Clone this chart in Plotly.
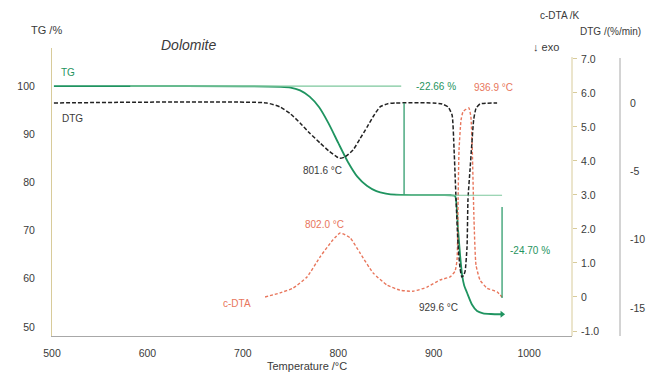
import plotly.graph_objects as go

# Thermal analysis of dolomite: TG, DTG and c-DTA versus temperature
temp_tg = [502, 580, 700, 740, 750, 760, 770, 780, 790, 800, 810, 820, 830, 840,
           850, 860, 880, 900, 918, 922.4, 925.6, 927.7, 929.8, 932, 935, 940.3,
           945.5, 951.8, 960, 971.7]
tg = [100.0, 100.0, 99.95, 99.85, 99.7, 99.1, 97.8, 95.6, 92.2, 88.2, 84.3, 81.2, 79.3, 78.2,
      77.7, 77.45, 77.38, 77.35, 77.34, 77.2, 70.1, 64.9, 60.8, 58.6, 57.1, 54.6,
      53.3, 52.85, 52.7, 52.64]

temp_dtg = [502, 725, 739, 750, 760, 770, 781, 790, 798.7, 801.6, 807, 815.5, 823,
            830.2, 837, 843.8, 852, 860, 899.4, 908.8, 915.1, 919.3, 921.4, 923.5,
            925.6, 927.7, 929.6, 931.5, 933, 935, 936, 938, 940, 942, 944.4, 948.6, 966.5]
dtg = [0, 0, -0.29, -0.8, -1.46, -2.2, -2.93, -3.5, -3.95, -4.05, -3.95, -3.44, -2.6,
       -1.76, -0.95, -0.29, -0.05, 0, 0, -0.07, -0.29, -0.88, -3.4, -7.1,
       -10.4, -12.1, -12.73, -12.6, -12.3, -10.5, -7.0, -5.0, -3.0, -1.2, -0.4, -0.07, 0]

temp_dta = [723.3, 739, 752.6, 767.3, 781, 794.5, 802.0, 812.4, 822.9, 836.5, 851.2,
            864.8, 878.4, 893.1, 906.7, 917.2, 922.4, 924.5, 925.6, 926.6, 928.7, 930.8,
            934, 936.9, 939, 940.5, 942.3, 944.4, 948.6, 956, 966.5, 971.7]
dta = [0.0, 0.12, 0.26, 0.59, 1.18, 1.68, 1.88, 1.74, 1.29, 0.71, 0.35,
       0.2, 0.17, 0.29, 0.5, 0.59, 0.76, 1.09, 2.85, 4.32, 5.2, 5.45,
       5.52, 5.56, 5.3, 4.3, 2.26, 0.94, 0.5, 0.26, 0.15, 0.0]

# mass-loss steps (%)
step1 = -22.66
step2 = -24.70
tg_start = 100.0
tg_mid = tg_start + step1
tg_end = tg_mid + step2

x_ticks = [500, 600, 700, 800, 900, 1000]
tg_ticks = [50, 60, 70, 80, 90, 100]
dta_ticks = [-1, 0, 1, 2, 3, 4, 5, 6, 7]
dta_ticktext = ["-1.0", "0", "1.0", "2.0", "3.0", "4.0", "5.0", "6.0", "7.0"]
dtg_ticks = [-15, -10, -5, 0]
dtg_ticktext = ["-15", "-10", "-5", "0"]

GREEN = "#1f9460"
GREEN_LIGHT = "#7cc79c"
RED = "#e8765c"
TAN = "#d8cb9a"
GREY = "#a8a8a8"
TXT = "#3a3a3a"
FONT = "Liberation Sans, Arial, sans-serif"

# geometry helpers (pixel -> paper)
L, R_PAPER, T, B = 52, 640, 48, 336
W, H = R_PAPER - L, B - T
def px(x):
    return (x - L) / W
def py(y):
    return (B - y) / H

fig = go.Figure()

fig.add_trace(go.Scatter(x=temp_dtg, y=dtg, yaxis="y3", mode="lines",
                         line=dict(color="#222222", width=1.5, dash="4px,2px",
                                   shape="spline", smoothing=0.5),
                         hoverinfo="skip"))
fig.add_trace(go.Scatter(x=temp_dta, y=dta, yaxis="y2", mode="lines",
                         line=dict(color=RED, width=1.4, dash="3px,2px",
                                   shape="spline", smoothing=0.5),
                         hoverinfo="skip"))
fig.add_trace(go.Scatter(x=temp_tg, y=tg, yaxis="y", mode="lines",
                         line=dict(color=GREEN, width=1.8, shape="spline", smoothing=0.6),
                         hoverinfo="skip"))
# arrow head at the end of the TG curve
fig.add_trace(go.Scatter(x=[temp_tg[-1]], y=[tg[-1]], yaxis="y", mode="markers",
                         marker=dict(symbol="triangle-right", size=6, color=GREEN),
                         hoverinfo="skip"))

x_step1 = 869
x_step2 = temp_tg[-1]
shapes = [
    dict(type="line", xref="x", yref="y", x0=582, x1=866, y0=tg_start, y1=tg_start,
         line=dict(color=GREEN_LIGHT, width=1.2)),
    dict(type="line", xref="x", yref="y", x0=x_step1, x1=x_step1, y0=96.5, y1=tg_mid,
         line=dict(color=GREEN, width=1.2)),
    dict(type="line", xref="x", yref="y", x0=860, x1=x_step2, y0=tg_mid, y1=tg_mid,
         line=dict(color=GREEN_LIGHT, width=1.2)),
    dict(type="line", xref="x", yref="y", x0=x_step2, x1=x_step2, y0=74.9, y1=56.0,
         line=dict(color=GREEN, width=1.2)),
    # right-hand axis lines
    dict(type="line", xref="paper", yref="paper", x0=px(572), x1=px(572), y0=0, y1=py(57),
         line=dict(color=TAN, width=1)),
    dict(type="line", xref="paper", yref="paper", x0=px(620), x1=px(620), y0=0, y1=py(58),
         line=dict(color=GREY, width=1)),
]

def txt(x, y, s, color=TXT, size=10, **kw):
    return dict(x=px(x), y=py(y), xref="paper", yref="paper", text=s, showarrow=False,
                font=dict(family=FONT, size=size, color=color), xanchor="center",
                yanchor="middle", **kw)

annotations = [
    txt(46, 30, "TG /%", size=11),
    txt(188, 45, "<i>Dolomite</i>", size=14),
    txt(560, 15, "c-DTA /K", size=10),
    txt(610, 32, "DTG /(%/min)", size=10),
    txt(546, 47, "↓ exo", size=11),
    txt(68, 72, "TG", color=GREEN, size=10),
    txt(72, 118, "DTG", size=10),
    txt(237, 303, "c-DTA", color=RED, size=10),
    txt(322, 170, "801.6 °C", size=10),
    txt(324, 225, "802.0 °C", color=RED, size=10),
    txt(438, 307, "929.6 °C", size=10),
    txt(494, 88, "936.9 °C", color=RED, size=10),
    txt(436, 87, f"{step1:.2f} %", color=GREEN, size=10),
    txt(530, 250, f"{step2:.2f} %", color=GREEN, size=10),
    txt(307, 366, "Temperature /°C", size=11),
]

tickfont = dict(family=FONT, size=10.5, color=TXT)

fig.update_layout(
    width=668, height=377,
    margin=dict(l=L, r=668 - R_PAPER, t=T, b=377 - B, autoexpand=False),
    paper_bgcolor="white", plot_bgcolor="white",
    showlegend=False,
    font=dict(family=FONT, color=TXT),
    xaxis=dict(domain=[0, px(572)], range=[500, 1045], tickvals=x_ticks,
               showline=True, linecolor=GREY, linewidth=1, ticks="",
               showgrid=False, zeroline=False, tickfont=tickfont, ticklabelstandoff=7,
               automargin=False),
    yaxis=dict(range=[48.13, 107.9], tickvals=tg_ticks, showline=True, linecolor=TAN,
               linewidth=1, ticks="", showgrid=False, zeroline=False,
               tickfont=tickfont, ticklabelstandoff=14, automargin=False),
    yaxis2=dict(overlaying="y", side="right", anchor="x", range=[-1.147, 7.32],
                tickvals=dta_ticks, ticktext=dta_ticktext, showline=False,
                ticks="outside", ticklen=4, tickcolor=TAN, showgrid=False,
                zeroline=False, tickfont=tickfont, ticklabelstandoff=2, automargin=False),
    yaxis3=dict(overlaying="y", side="right", anchor="free", position=px(620),
                range=[-17.04, 4.02], tickvals=dtg_ticks, ticktext=dtg_ticktext,
                showline=False, ticks="", showgrid=False, zeroline=False,
                tickfont=tickfont, ticklabelstandoff=9, automargin=False),
    shapes=shapes,
    annotations=annotations,
)

fig.write_html("out.html")
